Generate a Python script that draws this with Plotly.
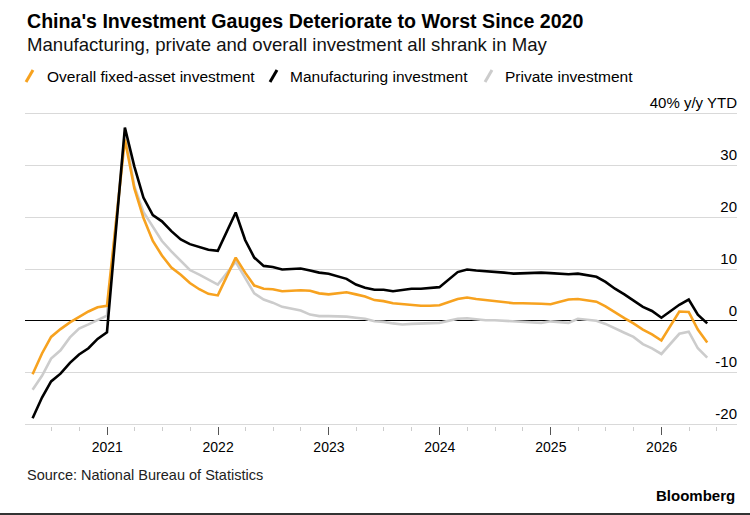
import pandas as pd
import plotly.graph_objects as go

# month labels (YTD data, Jan-Feb published together so no January points)
months = (
    ["2020-%02d" % m for m in range(4, 13)]
    + ["%d-%02d" % (y, m) for y in range(2021, 2026) for m in range(2, 13)]
    + ["2026-%02d" % m for m in range(2, 6)]
)
dates = pd.to_datetime(months) + pd.offsets.MonthEnd(0)

overall = [
    -10.3, -6.3, -3.1, -1.6, -0.3, 0.8, 1.8, 2.6, 2.9,
    35.0, 25.6, 19.9, 15.4, 12.6, 10.3, 8.9, 7.3, 6.1, 5.2, 4.9,
    12.2, 9.3, 6.8, 6.2, 6.1, 5.7, 5.8, 5.9, 5.8, 5.3, 5.1,
    5.5, 5.1, 4.7, 4.0, 3.8, 3.4, 3.2, 3.1, 2.9, 2.9, 3.0,
    4.2, 4.5, 4.2, 4.0, 3.9, 3.6, 3.4, 3.4, 3.4, 3.3, 3.2,
    4.1, 4.2, 4.0, 3.7, 2.8, 1.6, 0.5, -0.5, -1.7, -2.6, -3.8,
    1.8, 1.7, -1.7, -4.2,
]
manufacturing = [
    -18.8, -14.8, -11.7, -10.2, -8.1, -6.5, -5.3, -3.5, -2.2,
    37.3, 29.8, 23.8, 20.4, 19.2, 17.3, 15.7, 14.8, 14.2, 13.7, 13.5,
    20.9, 15.6, 12.2, 10.6, 10.4, 9.9, 10.0, 10.1, 9.7, 9.3, 9.1,
    8.1, 7.0, 6.4, 6.0, 6.0, 5.7, 5.9, 6.2, 6.2, 6.3, 6.5,
    9.4, 9.9, 9.7, 9.6, 9.5, 9.3, 9.1, 9.2, 9.3, 9.3, 9.2,
    9.0, 9.1, 8.8, 8.5, 7.5, 6.2, 5.1, 4.0, 2.7, 1.9, 0.6,
    3.1, 4.1, 1.2, -0.5,
]
private = [
    -13.3, -10.6, -7.3, -5.7, -3.2, -1.5, -0.7, 0.2, 1.0,
    36.4, 26.0, 21.0, 18.1, 15.4, 13.4, 11.5, 9.8, 8.9, 8.0, 7.0,
    11.4, 8.4, 5.3, 4.1, 3.5, 2.7, 2.3, 2.0, 1.2, 0.9, 0.9,
    0.8, 0.6, 0.4, -0.1, -0.2, -0.5, -0.7, -0.6, -0.5, -0.5, -0.4,
    0.4, 0.5, 0.3, 0.1, 0.1, 0.0, -0.2, -0.2, -0.3, -0.4, -0.1,
    -0.4, 0.4, 0.2, 0.0, -0.6, -1.5, -2.3, -3.1, -4.5, -5.3, -6.4,
    -2.5, -2.1, -5.3, -7.1,
]

y_ticks = [-20, -10, 0, 10, 20, 30, 40]
y_labels = ["-20", "-10", "0", "10", "20", "30", "40% y/y YTD"]

series_names = ["Overall fixed-asset investment", "Manufacturing investment", "Private investment"]
colors = ["#F7A21F", "#000000", "#CCCCCC"]

FONT = "Liberation Sans, Arial, sans-serif"
W, H = 750, 515
L, R, T, B = 25, 13, 112, 89


def px(x):
    return (x - L) / (W - L - R)


def py(y):
    return (H - B - y) / (H - T - B)


fig = go.Figure()
# grey first so it sits underneath
for name, vals, col in [(series_names[2], private, colors[2]),
                        (series_names[0], overall, colors[0]),
                        (series_names[1], manufacturing, colors[1])]:
    fig.add_trace(go.Scatter(x=dates, y=vals, name=name, mode="lines",
                             line=dict(color=col, width=2.6), showlegend=False))

fig.update_layout(
    width=W, height=H,
    margin=dict(l=L, r=R, t=T, b=B, autoexpand=False),
    paper_bgcolor="white", plot_bgcolor="white",
    font=dict(family=FONT, color="#000", size=15),
)
fig.update_xaxes(
    type="date", range=["2020-04-05", "2026-09-06"], automargin=False,
    showgrid=False, zeroline=False, showline=False,
    tick0="2021-01-01", dtick="M12", tickformat="%Y",
    ticks="outside", ticklen=8, tickcolor="#555", tickwidth=1,
    tickfont=dict(size=14, color="#000"),
    minor=dict(tick0="2021-01-01", dtick="M3", ticks="outside", ticklen=4,
               tickcolor="#ccc", showgrid=False),
)
fig.update_yaxes(
    range=[-20.3, 40.3], side="right", automargin=False,
    tickvals=y_ticks, ticktext=y_labels,
    ticklabelposition="inside top", ticklabeloverflow="allow",
    ticklabelstandoff=-3, ticks="",
    showgrid=True, gridcolor="#d9d9d9", gridwidth=1,
    zeroline=True, zerolinecolor="#000", zerolinewidth=1,
    tickfont=dict(size=15, color="#000"),
)

ann = []
ann.append(dict(text="<b>China's Investment Gauges Deteriorate to Worst Since 2020</b>",
                x=px(25), y=py(21), font=dict(size=19.6)))
ann.append(dict(text="Manufacturing, private and overall investment all shrank in May",
                x=px(25), y=py(45), font=dict(size=18.6, color="#111")))
legend_x = [45, 288, 503]
slash_x = [26, 270, 485]
for lx, sx, name, col in zip(legend_x, slash_x, series_names, colors):
    ann.append(dict(text=name, x=px(lx), y=py(76), font=dict(size=15.5)))
    fig.add_shape(type="line", xref="paper", yref="paper",
                  x0=px(sx), x1=px(sx + 7), y0=py(82), y1=py(70),
                  line=dict(color=col, width=3))
ann.append(dict(text="Source: National Bureau of Statistics",
                x=px(25), y=py(475), font=dict(size=14.5, color="#222")))
for a in ann:
    a.update(xref="paper", yref="paper", xanchor="left", yanchor="middle",
             showarrow=False)
    fig.add_annotation(**a)
fig.add_annotation(text="<b>Bloomberg</b>", xref="paper", yref="paper",
                   x=px(737), y=py(495), xanchor="right", yanchor="middle",
                   showarrow=False, font=dict(size=15, color="#000"))
fig.add_shape(type="line", xref="paper", yref="paper",
              x0=px(0), x1=px(750), y0=py(514), y1=py(514),
              line=dict(color="#333", width=2))

# page body has an 8px default margin, drop it so the figure sits at 0,0
fig.write_html("out.html", config={"displayModeBar": False},
               post_script="document.body.style.margin='0px';")
